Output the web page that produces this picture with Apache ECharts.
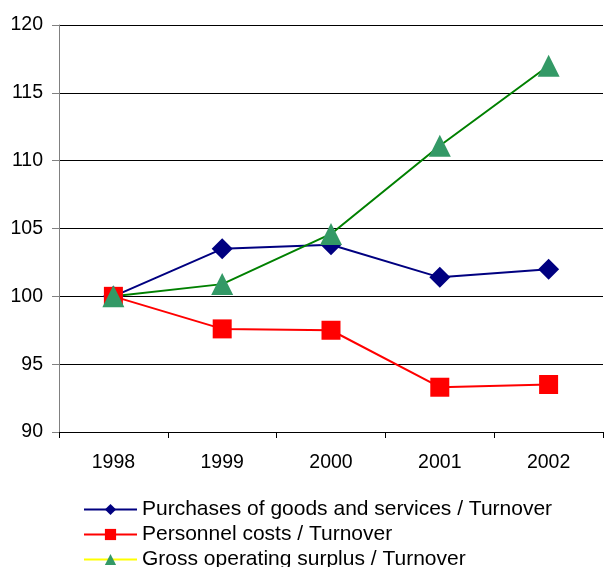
<!DOCTYPE html>
<html>
<head>
<meta charset="utf-8">
<script src="https://cdn.jsdelivr.net/npm/echarts@6/dist/echarts.min.js"></script>
<style>
  html, body { margin: 0; padding: 0; background: #fff; }
  #chart { width: 604px; height: 567px; }
</style>
</head>
<body>
<div id="chart"></div>
<script>
// Ratios indexed to 1998 = 100
const years = ['1998', '1999', '2000', '2001', '2002'];
const purchases = [100, 103.5, 103.8, 101.4, 102.0];
const personnel = [100, 97.6, 97.5, 93.3, 93.5];
const surplus = [100, 100.9, 104.6, 111.1, 117.0];

const seriesNames = [
  'Purchases of goods and services / Turnover',
  'Personnel costs / Turnover',
  'Gross operating surplus / Turnover'
];

const FONT = '"Liberation Sans", Arial, sans-serif';

const chart = echarts.init(document.getElementById('chart'), null, { renderer: 'canvas' });

chart.setOption({
  animation: false,
  backgroundColor: '#ffffff',
  textStyle: { fontFamily: FONT, color: '#000' },
  grid: { left: 59, right: 1, top: 25, bottom: 135, containLabel: false },
  xAxis: {
    type: 'category',
    data: years,
    boundaryGap: true,
    axisLine: { show: true, lineStyle: { color: '#000', width: 1 } },
    axisTick: { show: true, length: 6, lineStyle: { color: '#000' } },
    axisLabel: { fontSize: 19.5, color: '#000', fontFamily: FONT, margin: 21 },
    splitLine: { show: false }
  },
  yAxis: {
    type: 'value',
    min: 90,
    max: 120,
    interval: 5,
    axisLine: { show: true, lineStyle: { color: '#808080', width: 1 } },
    axisTick: { show: true, length: 7, lineStyle: { color: '#808080' } },
    axisLabel: { fontSize: 19.5, color: '#000', fontFamily: FONT, margin: 16 },
    splitLine: { show: true, lineStyle: { color: '#000', width: 1 } }
  },
  legend: {
    orient: 'vertical',
    left: 83,
    top: 499,
    width: 500,
    height: 120,
    padding: 0,
    itemWidth: 53,
    itemHeight: 14,
    itemGap: 4,
    textStyle: { fontSize: 21, color: '#000', fontFamily: FONT, lineHeight: 21 },
    data: [
      { name: seriesNames[0] },
      { name: seriesNames[1] },
      { name: seriesNames[2], lineStyle: { color: '#FFFF00' } }
    ]
  },
  series: [
    {
      name: seriesNames[0],
      type: 'line',
      data: purchases,
      symbol: 'diamond',
      symbolSize: 21,
      lineStyle: { color: '#000080', width: 2 },
      itemStyle: { color: '#000080' }
    },
    {
      name: seriesNames[1],
      type: 'line',
      data: personnel,
      symbol: 'rect',
      symbolSize: 19,
      lineStyle: { color: '#FF0000', width: 2 },
      itemStyle: { color: '#FF0000' }
    },
    {
      name: seriesNames[2],
      type: 'line',
      data: surplus,
      symbol: 'triangle',
      symbolSize: 22,
      lineStyle: { color: '#008000', width: 2 },
      itemStyle: { color: '#339966' }
    }
  ]
});
</script>
</body>
</html>
